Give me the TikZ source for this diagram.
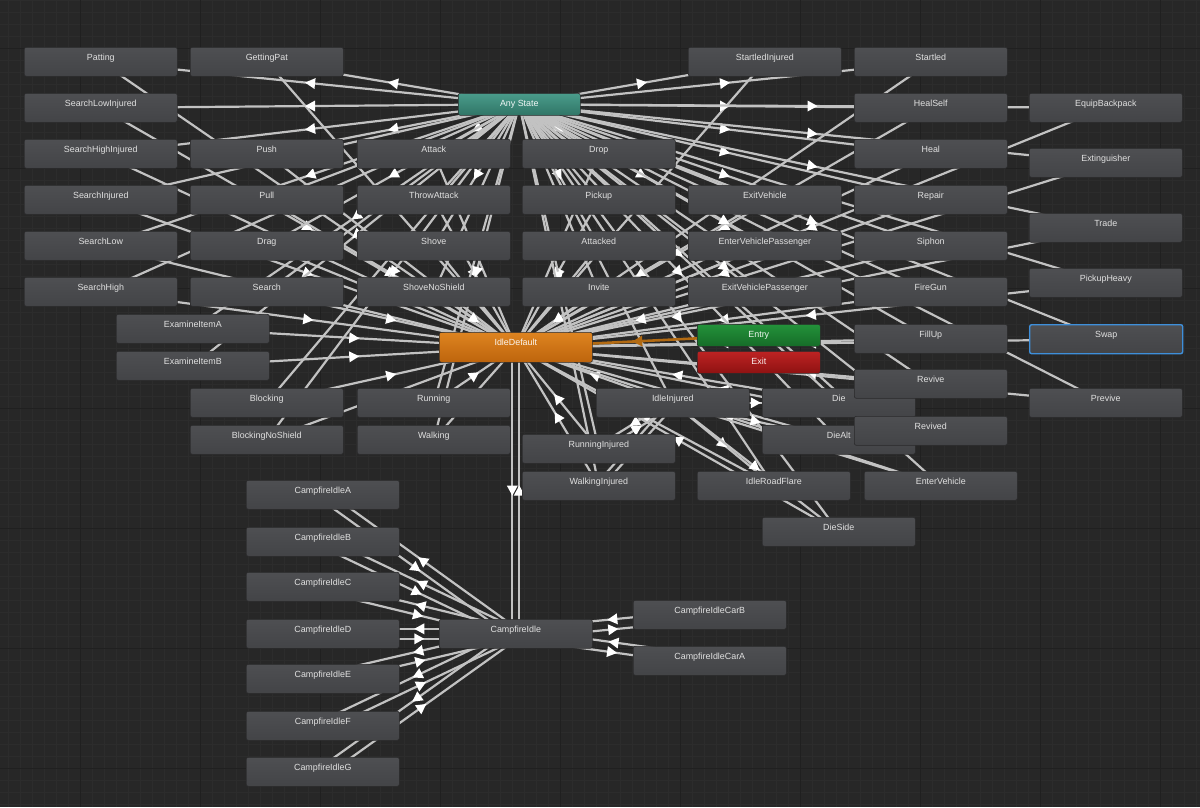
\documentclass[tikz,border=0pt]{standalone}
\usepackage{fontspec}
\setmainfont{Liberation Sans}
\usetikzlibrary{calc,decorations.markings}
\pgfdeclarelayer{bg}
\pgfdeclarelayer{edges}
\pgfsetlayers{bg,edges,main}
\definecolor{bgc}{HTML}{272727}
\definecolor{gridminor}{HTML}{2C2C2C}
\definecolor{gridmajor}{HTML}{202020}
\definecolor{nodetop}{HTML}{4E4F52}
\definecolor{nodebot}{HTML}{434447}
\definecolor{nodeborder}{HTML}{2A2A2B}
\definecolor{nodetext}{HTML}{E0E0E0}
\definecolor{edgec}{HTML}{C2C2C2}
\definecolor{anytop}{HTML}{4A9C8B}
\definecolor{anybot}{HTML}{307566}
\definecolor{idletop}{HTML}{DE8420}
\definecolor{idlebot}{HTML}{BD640C}
\definecolor{entrytop}{HTML}{23923A}
\definecolor{entrybot}{HTML}{166C28}
\definecolor{exittop}{HTML}{BE2323}
\definecolor{exitbot}{HTML}{8E1212}
\definecolor{entryline}{HTML}{B26A12}
\definecolor{selblue}{HTML}{3E8FDA}
\tikzset{
  st/.style={rectangle, rounded corners=2pt, anchor=north west, minimum width=153pt, minimum height=29pt,
    inner sep=0pt, text height=8pt, text depth=11pt, top color=nodetop, bottom color=nodebot,
    draw=nodeborder, line width=0.6pt, text=nodetext, font=\fontsize{8.9}{10}\selectfont},
  smallst/.style={st, minimum width=122pt, minimum height=22pt, text height=6.5pt, text depth=2pt},
  anyst/.style={smallst, top color=anytop, bottom color=anybot, text=white!92!anytop},
  idlest/.style={st, minimum height=30pt, top color=idletop, bottom color=idlebot, text=white!92!idletop},
  entryst/.style={smallst, minimum width=123pt, top color=entrytop, bottom color=entrybot, text=white!92!entrytop},
  exitst/.style={smallst, minimum width=123pt, top color=exittop, bottom color=exitbot, text=white!92!exittop},
  selst/.style={st, draw=selblue, line width=1.4pt},
  trans/.style={draw=edgec, line width=2.2pt, postaction={decorate},
    decoration={markings, mark=at position 0.5 with {\fill[white] (5pt,0pt) -- (-5pt,5.5pt) -- (-5pt,-5.5pt) -- cycle;}}},
  entrytrans/.style={draw=entryline, line width=2.6pt, postaction={decorate},
    decoration={markings, mark=at position 0.5 with {\fill[entryline] (5pt,0pt) -- (-5pt,5.5pt) -- (-5pt,-5.5pt) -- cycle;}}}
}
\newcommand\trone[2]{\draw[trans] (#1.center) -- (#2.center);}
\newcommand\trtwo[3]{%
  \draw[trans] ($(#1.center)!#3!-90:(#2.center)$) -- ($(#2.center)!#3!90:(#1.center)$);
  \draw[trans] ($(#2.center)!#3!-90:(#1.center)$) -- ($(#1.center)!#3!90:(#2.center)$);}
\begin{document}
\begin{tikzpicture}[x=1pt,y=-1pt]
\useasboundingbox (0,0) rectangle (1200,807);
\begin{pgfonlayer}{bg}
  \fill[bgc] (0,0) rectangle (1200,807);
  \foreach \x in {8,20,...,1200} \draw[gridminor, line width=0.5pt] (\x,0) -- (\x,807);
  \foreach \y in {0,12,...,807} \draw[gridminor, line width=0.5pt] (0,\y) -- (1200,\y);
  \foreach \x in {80,200,...,1200} \draw[gridmajor, line width=0.9pt] (\x,0) -- (\x,807);
  \foreach \y in {48,168,...,807} \draw[gridmajor, line width=0.9pt] (0,\y) -- (1200,\y);
\end{pgfonlayer}

% row 1
\node[st] (Patting) at (24,47) {Patting};
\node[st] (GettingPat) at (190,47) {GettingPat};
\node[st] (StartledInjured) at (688,47) {StartledInjured};
\node[st] (Startled) at (854,47) {Startled};
% row 2
\node[st] (SearchLowInjured) at (24,93) {SearchLowInjured};
\node[anyst] (AnyState) at (458,93) {Any State};
\node[st] (HealSelf) at (854,93) {HealSelf};
\node[st] (EquipBackpack) at (1029,93) {EquipBackpack};
% row 3
\node[st] (SearchHighInjured) at (24,139) {SearchHighInjured};
\node[st] (Push) at (190,139) {Push};
\node[st] (Attack) at (357,139) {Attack};
\node[st] (Drop) at (522,139) {Drop};
\node[st] (Heal) at (854,139) {Heal};
\node[st] (Extinguisher) at (1029,148) {Extinguisher};
% row 4
\node[st] (SearchInjured) at (24,185) {SearchInjured};
\node[st] (Pull) at (190,185) {Pull};
\node[st] (ThrowAttack) at (357,185) {ThrowAttack};
\node[st] (Pickup) at (522,185) {Pickup};
\node[st] (ExitVehicle) at (688,185) {ExitVehicle};
\node[st] (Repair) at (854,185) {Repair};
\node[st] (Trade) at (1029,213) {Trade};
% row 5
\node[st] (SearchLow) at (24,231) {SearchLow};
\node[st] (Drag) at (190,231) {Drag};
\node[st] (Shove) at (357,231) {Shove};
\node[st] (Attacked) at (522,231) {Attacked};
\node[st] (EnterVehiclePassenger) at (688,231) {EnterVehiclePassenger};
\node[st] (Siphon) at (854,231) {Siphon};
% row 6
\node[st] (SearchHigh) at (24,277) {SearchHigh};
\node[st] (Search) at (190,277) {Search};
\node[st] (ShoveNoShield) at (357,277) {ShoveNoShield};
\node[st] (Invite) at (522,277) {Invite};
\node[st] (ExitVehiclePassenger) at (688,277) {ExitVehiclePassenger};
\node[st] (FireGun) at (854,277) {FireGun};
\node[st] (PickupHeavy) at (1029,268) {PickupHeavy};
% middle
\node[st] (ExamineItemA) at (116,314) {ExamineItemA};
\node[st] (ExamineItemB) at (116,351) {ExamineItemB};
\node[idlest] (IdleDefault) at (439,332) {IdleDefault};
\node[entryst] (Entry) at (697,324) {Entry};
\node[exitst] (Exit) at (697,351) {Exit};
\node[st] (FillUp) at (854,324) {FillUp};
\node[selst] (Swap) at (1029,324) {Swap};
% lower
\node[st] (Blocking) at (190,388) {Blocking};
\node[st] (Running) at (357,388) {Running};
\node[st] (IdleInjured) at (596,388) {IdleInjured};
\node[st] (Die) at (762,388) {Die};
\node[st] (DieAlt) at (762,425) {DieAlt};
\node[st] (Revive) at (854,369) {Revive};
\node[st] (Revived) at (854,416) {Revived};
\node[st] (Previve) at (1029,388) {Previve};
\node[st] (BlockingNoShield) at (190,425) {BlockingNoShield};
\node[st] (Walking) at (357,425) {Walking};
\node[st] (RunningInjured) at (522,434) {RunningInjured};
\node[st] (WalkingInjured) at (522,471) {WalkingInjured};
\node[st] (IdleRoadFlare) at (697,471) {IdleRoadFlare};
\node[st] (EnterVehicle) at (864,471) {EnterVehicle};
\node[st] (DieSide) at (762,517) {DieSide};
% campfire
\node[st] (CampfireIdleA) at (246,480) {CampfireIdleA};
\node[st] (CampfireIdleB) at (246,527) {CampfireIdleB};
\node[st] (CampfireIdleC) at (246,572) {CampfireIdleC};
\node[st] (CampfireIdleD) at (246,619) {CampfireIdleD};
\node[st] (CampfireIdleE) at (246,664) {CampfireIdleE};
\node[st] (CampfireIdleF) at (246,711) {CampfireIdleF};
\node[st] (CampfireIdleG) at (246,757) {CampfireIdleG};
\node[st] (CampfireIdle) at (439,619) {CampfireIdle};
\node[st] (CampfireIdleCarB) at (633,600) {CampfireIdleCarB};
\node[st] (CampfireIdleCarA) at (633,646) {CampfireIdleCarA};

\begin{pgfonlayer}{edges}
  \foreach \s in {Patting,GettingPat,StartledInjured,Startled,SearchLowInjured,HealSelf,EquipBackpack,
    SearchHighInjured,Push,Attack,Drop,Heal,Extinguisher,SearchInjured,Pull,ThrowAttack,Pickup,ExitVehicle,
    Repair,Trade,SearchLow,Drag,Shove,Attacked,EnterVehiclePassenger,Siphon,SearchHigh,Search,ShoveNoShield,
    Invite,ExitVehiclePassenger,FireGun,PickupHeavy,ExamineItemA,ExamineItemB,FillUp,Swap,Revive,Previve,
    Blocking,Running,IdleInjured,Die,Revived,BlockingNoShield,Walking,DieAlt,RunningInjured,WalkingInjured,
    IdleRoadFlare,EnterVehicle,DieSide}
  {\trone{AnyState}{\s}\trone{\s}{IdleDefault}}
  \foreach \s in {IdleRoadFlare,Die,DieAlt,DieSide,EnterVehicle}
  {\trone{IdleInjured}{\s}}
  \trtwo{IdleInjured}{RunningInjured}{3pt}
  \trtwo{IdleInjured}{WalkingInjured}{3pt}
  \trtwo{IdleDefault}{CampfireIdle}{3.5pt}
  \foreach \s in {CampfireIdleA,CampfireIdleB,CampfireIdleC,CampfireIdleD,CampfireIdleE,CampfireIdleF,CampfireIdleG,
    CampfireIdleCarB,CampfireIdleCarA}
  {\trtwo{CampfireIdle}{\s}{5pt}}
  \draw[entrytrans] (Entry.center) -- (IdleDefault.center);
\end{pgfonlayer}
\end{tikzpicture}
\end{document}
